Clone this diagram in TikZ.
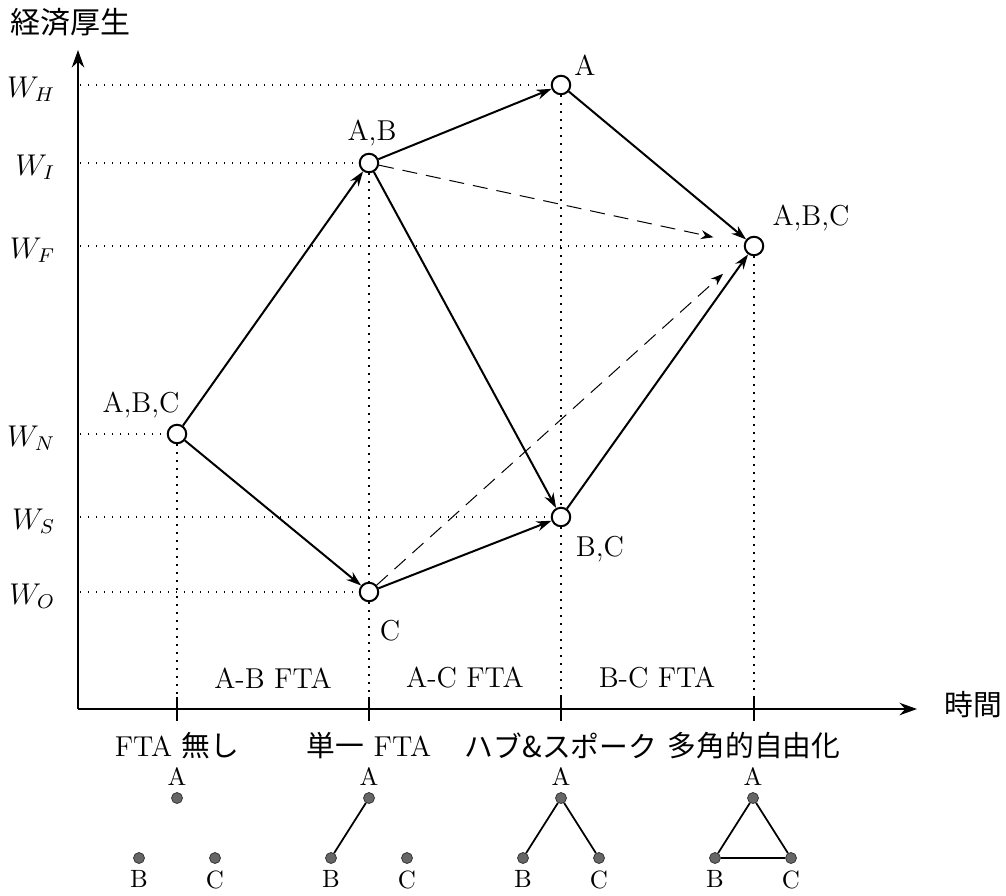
\documentclass[tikz,border=0pt]{standalone}
\usepackage{fontspec}
\newfontfamily\jp{Noto Sans CJK JP}
\usetikzlibrary{arrows.meta,positioning}
\begin{document}
\begin{tikzpicture}[x=0.4pt,y=-0.4pt,
  font=\fontsize{11.5}{13.5}\selectfont,
  state/.style={circle,draw,line width=0.8pt,minimum size=7.4pt,inner sep=0pt,fill=white},
  flow/.style={-{Stealth[length=6pt,width=4pt]},line width=0.8pt},
  alt/.style={-{Stealth[length=5pt,width=3.6pt]},line width=0.4pt,dash pattern=on 6pt off 3.6pt,shorten >=12.5pt},
  guide/.style={line width=0.5pt,dash pattern=on 0.5pt off 2.7pt},
  axis/.style={line width=0.8pt,-{Stealth[length=7pt,width=5pt]}},
  dot/.style={circle,fill=black!60,draw=black!80,line width=0.3pt,minimum size=4.4pt,inner sep=0pt},
  small/.style={font=\fontsize{10}{12}\selectfont,inner sep=1pt},
  link/.style={line width=0.7pt},
  jplabel/.style={font=\fontsize{11.5}{13.5}\selectfont\jp}]
\useasboundingbox (0,0) rectangle (1006,895);

% axes
\coordinate (O) at (78,709);
\coordinate (ytip) at (78,50);
\coordinate (xtip) at (917,709);
\draw[axis] (O) -- (ytip);
\draw[axis] (O) -- (xtip);
\node[jplabel,font=\fontsize{12}{14}\selectfont\jp] (ylab) at (70,22) {経済厚生};
\node[jplabel] (xlab) at (973,705) {時間};

% states
\node[state] (N) at (177,434) {};
\node[state] (AB) at (369,163) {};
\node[state] (A) at (561,85) {};
\node[state] (F) at (754,246) {};
\node[state] (BC) at (561,517) {};
\node[state] (C) at (369,592) {};

% axis anchor coordinates
\coordinate (aH) at (80,85);
\coordinate (aI) at (80,163);
\coordinate (aF) at (80,246);
\coordinate (aN) at (80,434);
\coordinate (aS) at (80,517);
\coordinate (aO) at (80,592);
\coordinate (t1) at (177,709);
\coordinate (t2) at (369,709);
\coordinate (t3) at (561,709);
\coordinate (t4) at (754,709);

% guides
\begin{scope}[guide]
\draw (aH) -- (A.west);
\draw (aI) -- (AB.west);
\draw (aF) -- (F.west);
\draw (aN) -- (N.west);
\draw (aS) -- (BC.west);
\draw (aO) -- (C.west);
\draw (N.south) -- (t1);
\draw (AB.south) -- (C.north);
\draw (C.south) -- (t2);
\draw (A.south) -- (BC.north);
\draw (BC.south) -- (t3);
\draw (F.south) -- (t4);
\end{scope}

% ticks
\foreach \t in {t1,t2,t3,t4}{
  \draw[line width=0.6pt] ([yshift=-4.8pt]\t) -- ([yshift=5pt]\t);
}

% W labels
\node[anchor=east] (lH) at (64,89) {$W_H$};
\node[anchor=east] (lI) at (64,167) {$W_I$};
\node[anchor=east] (lF) at (64,250) {$W_F$};
\node[anchor=east] (lN) at (64,438) {$W_N$};
\node[anchor=east] (lS) at (64,521) {$W_S$};
\node[anchor=east] (lO) at (64,596) {$W_O$};

% state labels
\node (nN) at (141,405) {A,B,C};
\node (nAB) at (372,133) {A,B};
\node (nA) at (585,65) {A};
\node (nF) at (811,218) {A,B,C};
\node (nBC) at (600,549) {B,C};
\node (nC) at (390,631) {C};

% arrows
\draw[flow] (N) -- (AB);
\draw[flow] (N) -- (C);
\draw[flow] (AB) -- (A);
\draw[flow] (AB) -- (BC);
\draw[flow] (A) -- (F);
\draw[flow] (C) -- (BC);
\draw[flow] (BC) -- (F);
\draw[alt] (AB) -- (F);
\draw[alt] (C) -- (F);

% phase labels
\node (p1) at (273,678) {A-B FTA};
\node (p2) at (465,678) {A-C FTA};
\node (p3) at (657,678) {B-C FTA};

% stage labels
\node (s1) at (177,746) {FTA {\jp 無し}};
\node (s2) at (369,746) {{\jp 単一} FTA};
\node[jplabel] (s3) at (561,746) {ハブ\&スポーク};
\node[jplabel] (s4) at (754,746) {多角的自由化};

% small graphs
\foreach \i/\x in {1/177,2/369,3/561,4/753}{
  \node[dot] (ga\i) at (\x,798) {};
  \node[dot] (gb\i) at (\x-38,858) {};
  \node[dot] (gc\i) at (\x+38,858) {};
  \node[small,above=1.5pt of ga\i] (la\i) {A};
  \node[small,below=1.5pt of gb\i] (lb\i) {B};
  \node[small,below=1.5pt of gc\i] (lc\i) {C};
}
\draw[link] (ga2) -- (gb2);
\draw[link] (ga3) -- (gb3);
\draw[link] (ga3) -- (gc3);
\draw[link] (ga4) -- (gb4);
\draw[link] (ga4) -- (gc4);
\draw[line width=1pt] (gb4) -- (gc4);
\end{tikzpicture}
\end{document}
